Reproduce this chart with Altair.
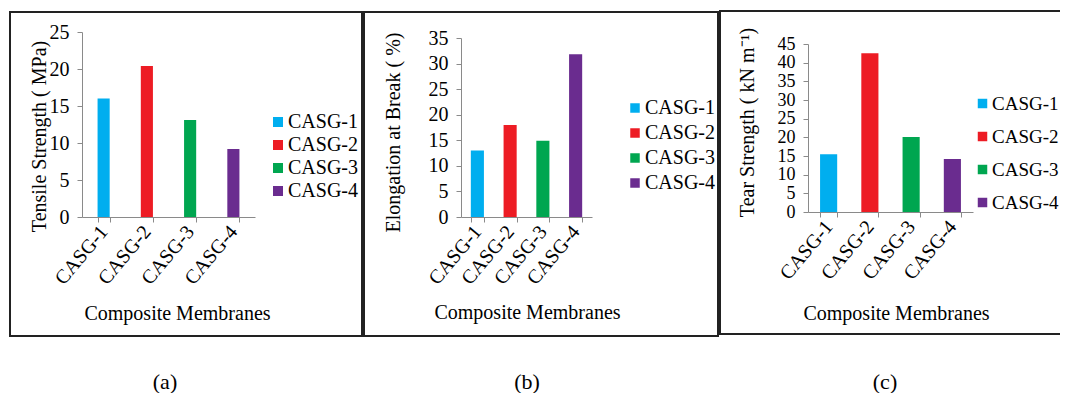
import altair as alt
import pandas as pd

categories = ["CASG-1", "CASG-2", "CASG-3", "CASG-4"]
colors = ["#00AEEF", "#ED1C24", "#00A650", "#6A2C8F"]
tensile = [16.0, 20.4, 13.1, 9.2]
elongation = [13.0, 18.0, 14.9, 31.8]
tear = [15.5, 42.5, 20.1, 14.2]
y_titles = ["Tensile Strength ( MPa)", "Elongation at Break ( %)", "Tear Strength ( kN m\u207b\u00b9)"]
x_title = "Composite Membranes"
panel_tags = ["(a)", "(b)", "(c)"]
y_maxes = [25, 35, 45]

FONT = "Liberation Serif"
AXIS_GRAY = "#8a8a8a"


def panel(values, ymax, ytitle, tag, w, h, xrange, yrange, frame, legend_xy, row_pad,
          ytitle_pad, ytitle_y, xtitle_xy, tag_xy, band_pad, sym_size, ylab_size,
          leg_font, leg_offset):
    df = pd.DataFrame({"cat": categories, "val": values})
    bars = alt.Chart(df).mark_bar().encode(
        x=alt.X("cat:N", sort=categories, title=x_title,
                scale=alt.Scale(paddingInner=band_pad, paddingOuter=band_pad / 2, range=xrange),
                axis=alt.Axis(labelAngle=-50, labelAlign="right", labelBaseline="middle",
                              tickBand="extent", tickSize=5, labelPadding=6,
                              titleX=xtitle_xy[0], titleY=xtitle_xy[1],
                              titleBaseline="middle", titleAlign="center")),
        y=alt.Y("val:Q", title=ytitle,
                scale=alt.Scale(domain=[0, ymax], range=yrange, nice=False, zero=True),
                axis=alt.Axis(values=list(range(0, ymax + 1, 5)), labelOverlap=False,
                              labelFontSize=ylab_size,
                              tickSize=5, labelPadding=8, titlePadding=ytitle_pad,
                              titleY=ytitle_y, titleAlign="center")),
        color=alt.Color("cat:N", sort=categories,
                        scale=alt.Scale(domain=categories, range=colors),
                        legend=alt.Legend(title=None, orient="none",
                                          legendX=legend_xy[0], legendY=legend_xy[1],
                                          symbolType="square", symbolSize=sym_size,
                                          symbolStrokeWidth=0, labelFont=FONT,
                                          labelFontSize=leg_font, labelColor="black",
                                          rowPadding=row_pad, labelOffset=leg_offset)),
    )
    frame_df = pd.DataFrame({"k": [0]})
    box = alt.Chart(frame_df).mark_rect(fill="transparent", stroke="#222222", strokeWidth=2).encode(
        x=alt.value(frame[0]), x2=alt.value(frame[1]),
        y=alt.value(frame[2]), y2=alt.value(frame[3]),
    )
    tag_df = pd.DataFrame({"t": [tag]})
    tag_text = alt.Chart(tag_df).mark_text(font=FONT, fontSize=22, color="black").encode(
        text="t:N", x=alt.value(tag_xy[0]), y=alt.value(tag_xy[1]),
    )
    return alt.layer(box, bars, tag_text).properties(width=w, height=h)


pa = panel(tensile, y_maxes[0], y_titles[0], panel_tags[0], 173, 185, [0, 173], [185, 0],
           (-72, 280, -20, 304), (186, 80), 3, 0, 104, (95, 96), (83, 350), 0.72, 100, 20,
           20, 0)
pb = panel(elongation, y_maxes[1], y_titles[1], panel_tags[1], 141, 185, [0, 131], [185, 6],
           (-97, 257, -20, 304), (164, 66), 5, 25, 100, (66, 95), (66, 350), 0.6, 90, 20,
           20, 0)
pc = panel(tear, y_maxes[2], y_titles[2], panel_tags[2], 165, 180, [0, 165], [180, 12],
           (-88, 256, -21, 302), (165, 62), 13, 20, 90, (88, 101), (77, 350), 0.585, 90, 18,
           19, 0)

chart = alt.hconcat(pa, pb, pc, spacing=206, bounds="flush").resolve_scale(
    color="independent", x="independent", y="independent"
).resolve_legend(color="independent").properties(
    padding={"left": 1, "top": 2, "right": -5, "bottom": 0}
).configure_view(stroke=None).configure_axis(
    grid=False, domainColor=AXIS_GRAY, tickColor=AXIS_GRAY,
    labelFont=FONT, labelFontSize=20, labelColor="black",
    titleFont=FONT, titleFontSize=20, titleColor="black", titleFontWeight="normal",
)

chart.save("out.html", embed_options={"renderer": "svg", "actions": False})
